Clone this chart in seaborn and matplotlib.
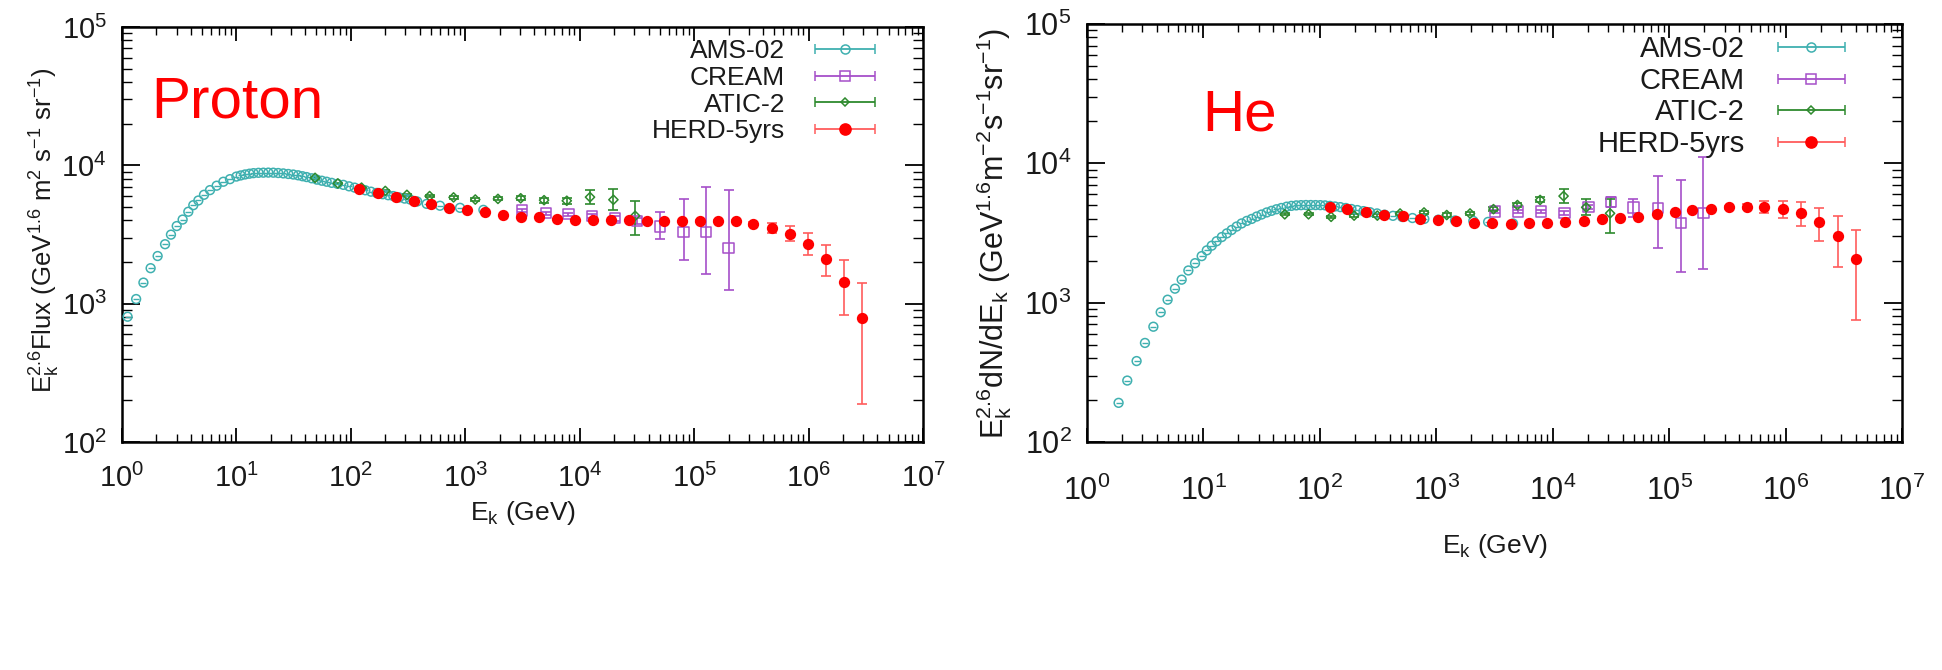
import numpy as np
import matplotlib
matplotlib.use("Agg")
import matplotlib.pyplot as plt
from matplotlib.container import ErrorbarContainer
from matplotlib.legend_handler import HandlerErrorbar
from matplotlib.ticker import LogLocator
import seaborn as sns

sns.set_theme(style="ticks")
plt.rcParams['font.family'] = ['Liberation Sans', 'DejaVu Sans']
plt.rcParams['mathtext.fontset'] = 'custom'
plt.rcParams['mathtext.rm'] = 'Liberation Sans'
plt.rcParams['mathtext.it'] = 'Liberation Sans'
plt.rcParams['mathtext.bf'] = 'Liberation Sans:bold'

# ---------------- proton ----------------
p_ams_E = [1.12, 1.33, 1.54, 1.78, 2.05, 2.38, 2.68, 3.01, 3.39, 3.80, 4.20, 4.65, 5.21, 5.88,
           6.72, 7.69, 8.79, 10.0, 10.9, 11.9, 13.0, 14.1, 15.6, 17.2, 19.0, 21.0, 23.2, 25.7,
           28.4, 31.4, 34.6, 37.8, 41.1, 45.5, 50.5, 55.8, 61.5, 68.0, 76.5, 86.0, 96.5, 108,
           120, 134, 150, 168, 190, 212, 235, 265, 295, 329, 380, 460, 601, 900, 1440]
p_ams_F = [805, 1080, 1420, 1805, 2210, 2690, 3155, 3640, 4055, 4620, 5150, 5570, 6125, 6620,
           7125, 7610, 7945, 8295, 8450, 8590, 8700, 8780, 8830, 8850, 8860, 8850, 8800, 8740,
           8660, 8580, 8470, 8340, 8225, 8060, 7880, 7740, 7610, 7470, 7350, 7225, 7050, 6900,
           6740, 6600, 6450, 6315, 6180, 6080, 5995, 5860, 5750, 5665, 5480, 5265, 5105, 4930, 4765]

p_cream_E = [3120, 5050, 7970, 12800, 20400, 31600, 50500, 80800, 126500, 200000]
p_cream_F = [4720, 4520, 4440, 4315, 4155, 3970, 3610, 3295, 3295, 2525]
p_cream_lo = [100, 110, 120, 140, 170, 220, 680, 1240, 1670, 1263]
p_cream_hi = [100, 110, 120, 140, 170, 220, 960, 2435, 3735, 4055]

p_atic_E = [48.7, 77, 124, 200, 309, 488, 790, 1223, 1930, 3050, 4880, 7710, 12300, 19700, 30500]
p_atic_F = [8120, 7400, 6900, 6530, 6120, 5995, 5865, 5660, 5720, 5780, 5600, 5545, 5890, 5640, 4315]
p_atic_lo = [100, 100, 100, 100, 100, 110, 120, 130, 150, 180, 220, 260, 620, 920, 1165]
p_atic_hi = [100, 100, 100, 100, 100, 110, 120, 130, 150, 180, 220, 260, 690, 1090, 1230]

p_herd_E = [119, 172, 248, 353, 504, 724, 1035, 1480, 2130, 3060, 4420, 6300, 9060, 13100,
            18800, 27000, 38600, 54700, 78500, 113000, 162000, 233000, 330000, 476000,
            690000, 998000, 1420000, 2020000, 2920000]
p_herd_F = [6740, 6270, 5860, 5520, 5220, 4940, 4730, 4570, 4390, 4265, 4200, 4110, 4045, 4020,
            4020, 4010, 3990, 3990, 3990, 3990, 3990, 3950, 3760, 3515, 3180, 2710, 2100, 1425, 789]
p_herd_lo = [0, 0, 0, 0, 0, 0, 0, 0, 0, 0, 0, 0, 0, 0, 0, 0, 0, 0, 0, 30, 50,
             80, 140, 280, 360, 450, 525, 591, 602]
p_herd_hi = [0, 0, 0, 0, 0, 0, 0, 0, 0, 0, 0, 0, 0, 0, 0, 0, 0, 0, 0, 30, 50,
             80, 150, 310, 440, 530, 570, 655, 621]

# ---------------- helium ----------------
he_ams_E = [1.87, 2.22, 2.67, 3.15, 3.72, 4.30, 4.93, 5.70, 6.51, 7.43, 8.48, 9.67, 10.7, 11.8,
            13.0, 14.4, 15.9, 17.5, 19.3, 21.3, 23.6, 26.0, 28.7, 31.6, 35.0, 38.5, 42.4, 46.7,
            51.9, 57.0, 62.8, 69.0, 76.0, 83.6, 92.0, 101, 111, 122, 135, 150, 167, 187, 210,
            237, 270, 310, 360, 425, 510, 625, 790, 1040, 1450, 2080, 2790, 4570]
he_ams_F = [191, 276, 381, 514, 672, 853, 1050, 1260, 1462, 1702, 1920, 2158, 2373, 2565,
            2760, 2958, 3142, 3325, 3518, 3703, 3862, 3990, 4150, 4290, 4440, 4560, 4680, 4780,
            4885, 4950, 4990, 5010, 5020, 5020, 5015, 5010, 4990, 4950, 4900, 4850, 4780, 4700,
            4620, 4540, 4460, 4370, 4280, 4200, 4120, 4050, 3990, 3940, 3890, 3860, 3800, 3700]

he_cream_E = [3200, 5070, 7940, 12600, 20300, 31600, 49400, 80000, 126000, 197000]
he_cream_F = [4500, 4500, 4500, 4420, 4885, 5295, 4830, 4755, 3710, 4375]
he_cream_lo = [90, 100, 110, 130, 150, 400, 690, 2300, 2043, 2640]
he_cream_hi = [90, 100, 110, 130, 150, 400, 680, 3355, 3880, 6775]

he_atic_E = [50, 80, 125, 197, 312, 489, 785, 1230, 1950, 3100, 4980, 7800, 12400, 19400, 31100]
he_atic_F = [4305, 4305, 4130, 4215, 4215, 4365, 4440, 4255, 4365, 4690, 5020, 5460, 5820, 4830, 4375]
he_atic_lo = [80, 80, 80, 80, 80, 90, 100, 110, 120, 140, 170, 200, 655, 575, 1235]
he_atic_hi = [80, 80, 80, 80, 80, 90, 100, 110, 120, 140, 170, 250, 680, 680, 1135]

he_herd_E = [122, 172, 249, 356, 515, 726, 1043, 1478, 2110, 3035, 4360, 6290, 9010, 12860,
             18600, 26400, 37900, 54500, 78300, 112700, 158600, 228000, 327500, 464500,
             659000, 947000, 1360000, 1950000, 2810000, 4040000]
he_herd_F = [4840, 4720, 4480, 4290, 4160, 4000, 3900, 3830, 3760, 3715, 3680, 3715, 3750, 3810,
             3855, 3965, 4030, 4140, 4310, 4450, 4620, 4725, 4830, 4885, 4885, 4725, 4375, 3810,
             3005, 2055]
he_herd_lo = [0, 0, 0, 0, 0, 0, 0, 0, 0, 0, 0, 0, 0, 0, 0, 0, 0, 0, 0, 0, 0,
              60, 100, 200, 460, 650, 825, 1050, 1190, 1307]
he_herd_hi = [0, 0, 0, 0, 0, 0, 0, 0, 0, 0, 0, 0, 0, 0, 0, 0, 0, 0, 0, 0, 0,
              60, 100, 200, 465, 625, 860, 990, 1175, 1295]

labels = ["AMS-02", "CREAM", "ATIC-2", "HERD-5yrs"]
c_ams, c_cream, c_atic, c_herd = "#3fb0b0", "#a64fc9", "#2e8a2e", "#ff0000"
c_herd_err = "#ff5c5c"
txt = "#1a1a1a"


def panel(ax, ams, cream, atic, herd, ylabel, ylab, tag, tag_xy, xpad, xlabpad, tick_fs, leg):
    # error bars first, markers on top
    ax.errorbar(cream[0], cream[1], yerr=[cream[2], cream[3]], fmt="none",
                ecolor=c_cream, elinewidth=1.2, capsize=3.5, capthick=1.2, zorder=2)
    ax.errorbar(atic[0], atic[1], yerr=[atic[2], atic[3]], fmt="none",
                ecolor=c_atic, elinewidth=1.2, capsize=3.5, capthick=1.2, zorder=2)
    ax.errorbar(herd[0], herd[1], yerr=[herd[2], herd[3]], fmt="none",
                ecolor=c_herd_err, elinewidth=1.2, capsize=3.5, capthick=1.2, zorder=2)

    sns.scatterplot(x=ams[0], y=ams[1], ax=ax, marker="o", s=40, facecolor="none",
                    edgecolor=c_ams, linewidth=1.1, legend=False, zorder=3)
    # the tiny error caps of gnuplot show up as a dash inside each circle
    sns.scatterplot(x=ams[0], y=ams[1], ax=ax, marker="_", s=14, color=c_ams,
                    linewidth=1.0, legend=False, zorder=3)
    sns.scatterplot(x=cream[0], y=cream[1], ax=ax, marker="s", s=55, facecolor="none",
                    edgecolor=c_cream, linewidth=1.1, legend=False, zorder=3)
    sns.scatterplot(x=atic[0], y=atic[1], ax=ax, marker="D", s=22, facecolor="none",
                    edgecolor=c_atic, linewidth=1.1, legend=False, zorder=3)
    sns.scatterplot(x=herd[0], y=herd[1], ax=ax, marker="o", s=66, color=c_herd,
                    edgecolor=c_herd, linewidth=0, legend=False, zorder=4)

    ax.set_xscale("log")
    ax.set_yscale("log")
    ax.set_xlim(1, 1e7)
    ax.set_ylim(1e2, 1e5)
    ax.xaxis.set_major_locator(LogLocator(base=10, numticks=12))
    ax.xaxis.set_minor_locator(LogLocator(base=10, subs=np.arange(2, 10), numticks=12))
    ax.yaxis.set_major_locator(LogLocator(base=10, numticks=12))
    ax.yaxis.set_minor_locator(LogLocator(base=10, subs=np.arange(2, 10), numticks=12))
    ax.tick_params(which="both", direction="in", top=True, right=True, color="black",
                   labelsize=tick_fs, labelcolor=txt)
    ax.tick_params(axis="x", which="major", length=10, width=1.3, pad=xpad)
    ax.tick_params(axis="x", which="minor", length=6, width=1.0)
    ax.tick_params(axis="y", which="major", length=13, width=1.3, pad=11)
    ax.tick_params(axis="y", which="minor", length=7, width=1.0)
    for sp in ax.spines.values():
        sp.set_linewidth(1.8)
        sp.set_color("black")

    ax.set_xlabel(r"E$_\mathregular{k}$ (GeV)", fontsize=19, color=txt, labelpad=xlabpad)
    ax.set_ylabel(ylabel, fontsize=ylab[2], color=txt)
    ax.yaxis.set_label_coords(ylab[0], ylab[1])

    ax.text(tag_xy[0], tag_xy[1], tag, transform=ax.transAxes, color="red",
            fontsize=42, va="baseline", ha="left")

    handles = []
    for lab, c, m, fc, ms in [(labels[0], c_ams, "o", "none", 6.5),
                              (labels[1], c_cream, "s", "none", 7),
                              (labels[2], c_atic, "D", "none", 4.5),
                              (labels[3], c_herd, "o", c_herd, 8)]:
        ecol = c_herd_err if lab == labels[3] else c
        h = ax.errorbar([np.nan], [np.nan], xerr=[1.0], fmt=m, color=c, mfc=fc, mec=c,
                        ms=ms, mew=1.1, ecolor=ecol, elinewidth=1.3, capsize=3.5,
                        capthick=1.2, label=lab)
        handles.append(h)
    anchor, fs, hl, sp_ = leg
    ax.legend(handles=handles, loc="upper right", bbox_to_anchor=anchor,
              frameon=False, markerfirst=False, numpoints=1, handlelength=hl,
              handletextpad=0.68, labelspacing=sp_, borderpad=0, borderaxespad=0,
              fontsize=fs, labelcolor=txt,
              handler_map={ErrorbarContainer: HandlerErrorbar(xerr_size=hl / 2 / 1.389)})


fig = plt.figure(figsize=(19.42, 6.70), dpi=100)
ax1 = fig.add_axes([0.0628, 0.3403, 0.4125, 0.6194])
ax2 = fig.add_axes([0.5597, 0.3403, 0.4197, 0.6239])

panel(ax1,
      (p_ams_E, p_ams_F),
      (p_cream_E, p_cream_F, p_cream_lo, p_cream_hi),
      (p_atic_E, p_atic_F, p_atic_lo, p_atic_hi),
      (p_herd_E, p_herd_F, p_herd_lo, p_herd_hi),
      r"E$_\mathregular{k}^\mathregular{2.6}$Flux (GeV$^\mathregular{1.6}$ m$^\mathregular{2}$ "
      r"s$^\mathregular{-1}$ sr$^\mathregular{-1}$)",
      (-0.075, 0.51, 18.5), "Proton", (0.037, 0.781), 16, 4, 21,
      ((0.954, 0.97), 19, 3.15, 0.1))

panel(ax2,
      (he_ams_E, he_ams_F),
      (he_cream_E, he_cream_F, he_cream_lo, he_cream_hi),
      (he_atic_E, he_atic_F, he_atic_lo, he_atic_hi),
      (he_herd_E, he_herd_F, he_herd_lo, he_herd_hi),
      r"E$_\mathregular{k}^\mathregular{2.6}$dN/dE$_\mathregular{k}$ (GeV$^\mathregular{1.6}$"
      r"m$^\mathregular{-2}$s$^\mathregular{-1}$sr$^\mathregular{-1}$)",
      (-0.09, 0.5, 22), "He", (0.141, 0.746), 24, 18, 22,
      ((0.946, 0.973), 21, 3.2, 0.12))

fig.savefig("out.png", dpi=100)
